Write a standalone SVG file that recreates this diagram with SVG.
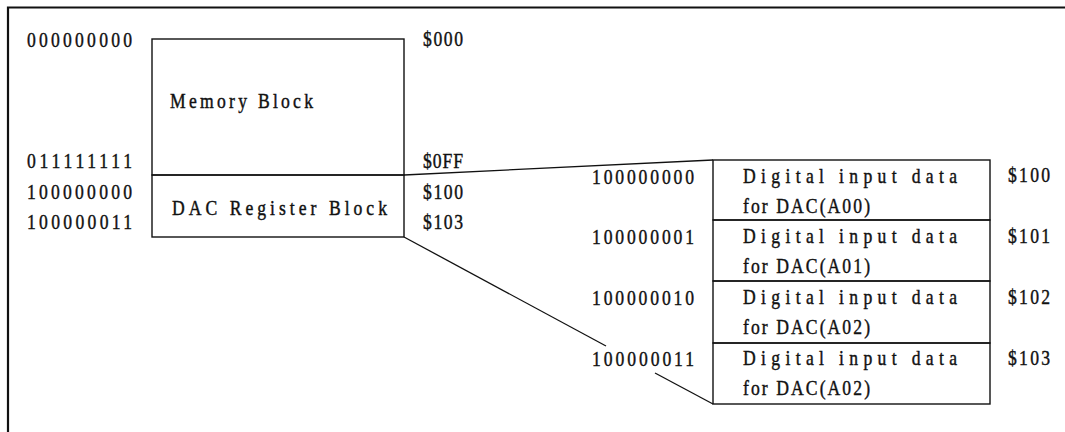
<svg xmlns="http://www.w3.org/2000/svg" width="1065" height="432" viewBox="0 0 1065 432">
<style>
text{font-family:"Liberation Serif","DejaVu Serif",serif;font-size:22px;fill:#111;stroke:#111;stroke-width:0.45}
.box{fill:none;stroke:#111;stroke-width:1.4}
.ln{fill:none;stroke:#111;stroke-width:1.3}
.frame{fill:none;stroke:#111;stroke-width:2.2}
</style>
<rect width="1065" height="432" fill="#fff"/>
<g id="frame"><path class="frame" d="M8,432 V7.5 H1065"/></g>
<g id="left-addresses">
<text transform="translate(27,47) scale(0.8,1)" textLength="131.25" lengthAdjust="spacing">000000000</text>
<text transform="translate(27,168) scale(0.8,1)" textLength="131.25" lengthAdjust="spacing">011111111</text>
<text transform="translate(27,199) scale(0.8,1)" textLength="131.25" lengthAdjust="spacing">100000000</text>
<text transform="translate(27,229) scale(0.8,1)" textLength="131.25" lengthAdjust="spacing">100000011</text>
<text transform="translate(423,46) scale(0.8,1)" textLength="50" lengthAdjust="spacing">$000</text>
<text transform="translate(423,168) scale(0.8,1)" textLength="50" lengthAdjust="spacing">$0FF</text>
<text transform="translate(423,199) scale(0.8,1)" textLength="50" lengthAdjust="spacing">$100</text>
<text transform="translate(423,229) scale(0.8,1)" textLength="50" lengthAdjust="spacing">$103</text>
</g>
<g id="memory-block">
<rect class="box" x="152" y="39" width="252" height="136"/>
<text transform="translate(170,108) scale(0.8,1)" textLength="178.75" lengthAdjust="spacing">Memory Block</text>
</g>
<g id="dac-register-block">
<rect class="box" x="152" y="175" width="252" height="62"/>
<text transform="translate(172,215) scale(0.8,1)" textLength="268.75" lengthAdjust="spacing">DAC Register Block</text>
</g>
<g id="connectors">
<line class="ln" x1="404" y1="175" x2="713" y2="160"/>
<line class="ln" x1="404" y1="237" x2="606" y2="346"/>
<line class="ln" x1="655" y1="373" x2="713" y2="404"/>
</g>
<g id="reg-100">
<rect class="box" x="713" y="160" width="277" height="60"/>
<text transform="translate(592,184) scale(0.8,1)" textLength="127.5" lengthAdjust="spacing">100000000</text>
<text transform="translate(743,183) scale(0.8,1)" textLength="267.5" lengthAdjust="spacing">Digital input data</text>
<text transform="translate(743,213) scale(0.8,1)" textLength="158.75" lengthAdjust="spacing">for DAC(A00)</text>
<text transform="translate(1008,182) scale(0.8,1)" textLength="52.5" lengthAdjust="spacing">$100</text>
</g>
<g id="reg-101">
<rect class="box" x="713" y="220" width="277" height="61"/>
<text transform="translate(592,244) scale(0.8,1)" textLength="127.5" lengthAdjust="spacing">100000001</text>
<text transform="translate(743,243) scale(0.8,1)" textLength="267.5" lengthAdjust="spacing">Digital input data</text>
<text transform="translate(743,273) scale(0.8,1)" textLength="158.75" lengthAdjust="spacing">for DAC(A01)</text>
<text transform="translate(1008,243) scale(0.8,1)" textLength="52.5" lengthAdjust="spacing">$101</text>
</g>
<g id="reg-102">
<rect class="box" x="713" y="281" width="277" height="62"/>
<text transform="translate(592,305) scale(0.8,1)" textLength="127.5" lengthAdjust="spacing">100000010</text>
<text transform="translate(743,304) scale(0.8,1)" textLength="267.5" lengthAdjust="spacing">Digital input data</text>
<text transform="translate(743,334) scale(0.8,1)" textLength="158.75" lengthAdjust="spacing">for DAC(A02)</text>
<text transform="translate(1008,304) scale(0.8,1)" textLength="52.5" lengthAdjust="spacing">$102</text>
</g>
<g id="reg-103">
<rect class="box" x="713" y="343" width="277" height="61"/>
<text transform="translate(592,366) scale(0.8,1)" textLength="127.5" lengthAdjust="spacing">100000011</text>
<text transform="translate(743,365) scale(0.8,1)" textLength="267.5" lengthAdjust="spacing">Digital input data</text>
<text transform="translate(743,395) scale(0.8,1)" textLength="158.75" lengthAdjust="spacing">for DAC(A02)</text>
<text transform="translate(1008,365) scale(0.8,1)" textLength="52.5" lengthAdjust="spacing">$103</text>
</g>
</svg>
